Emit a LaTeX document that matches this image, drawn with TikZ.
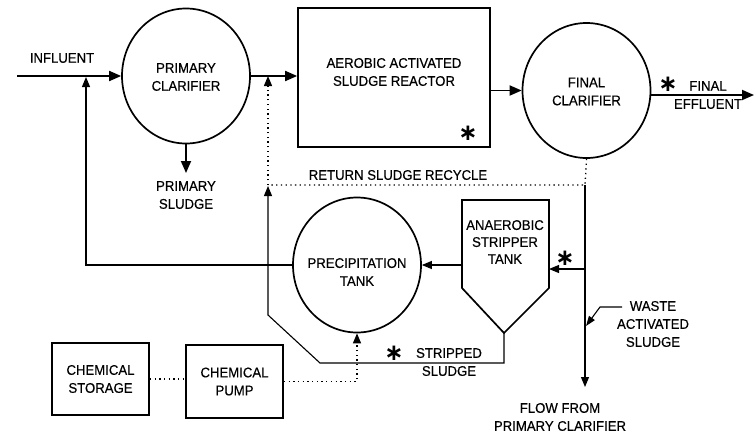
\documentclass[tikz,border=0pt]{standalone}
\usepackage{fontspec}
\setmainfont{Liberation Sans}[FakeStretch=0.94,FakeBold=0.4]
\newfontfamily\symfont{DejaVu Sans}
\usetikzlibrary{arrows.meta,shapes.geometric}
\begin{document}
\begin{tikzpicture}[x=1pt,y=-1pt,
  lbl/.style={font=\fontsize{14}{18}\selectfont, align=center, inner sep=0pt},
  vessel/.style={draw, ellipse, line width=1.7pt, minimum width=128pt, minimum height=135pt, inner sep=0pt},
  unit/.style={draw, rectangle, line width=1.7pt, inner sep=0pt, lbl},
  main/.style={line width=1.8pt, -{Triangle[length=12pt,width=10pt]}},
  thin/.style={line width=1.1pt},
  thinarr/.style={line width=1.1pt, -{Triangle[length=10pt,width=8pt]}},
  dots/.style={line width=1.3pt, dash pattern=on 1.3pt off 3.4pt},
  dotarr/.style={dots, -{Triangle[length=10pt,width=8pt]}},
  astmark/.style={inner sep=0pt, font=\symfont\bfseries\fontsize{23}{23}\selectfont}
]
\useasboundingbox (0,0) rectangle (755,434);
\fill[white] (0,0) rectangle (755,434);

% vessels and units
\node[vessel] (pc) at (186,76) {};
\node[lbl] (pctxt) at (186,77) {PRIMARY\\CLARIFIER};
\node[unit, minimum width=192pt, minimum height=139pt] (aer) at (394,77.5) {};
\node[lbl] (aertxt) at (394,72) {AEROBIC ACTIVATED\\SLUDGE REACTOR};
\node[vessel] (fc) at (586.5,90.5) {};
\node[lbl] (fctxt) at (586.5,91.5) {FINAL\\CLARIFIER};
\node[vessel] (pt) at (357,265) {};
\node[lbl] (pttxt) at (357,272) {PRECIPITATION\\TANK};
\node[unit, minimum width=97pt, minimum height=72pt] (cs) at (100.5,379) {CHEMICAL\\STORAGE};
\node[unit, minimum width=97pt, minimum height=73pt] (cp) at (234.5,381.5) {CHEMICAL\\PUMP};

% anaerobic stripper tank
\coordinate (atTL) at (462,200);
\coordinate (atTR) at (549,200);
\coordinate (atBR) at (549,288);
\coordinate (tankTip) at (504,333);
\coordinate (atBL) at (462,288);
\draw[line width=1.7pt] (atTL) -- (atTR) -- (atBR) -- (tankTip) -- (atBL) -- cycle;
\node[lbl, font=\fontsize{14}{17}\selectfont] (attxt) at (505,242) {ANAEROBIC\\STRIPPER\\TANK};

% main flow
\coordinate (inStart) at (17,76);
\draw[main] (inStart) -- (pc.west);
\node[lbl] (infl) at (62,58) {INFLUENT};
\draw[main] (pc.east) -- (aer.west |- pc.east);
\coordinate (psTip) at (186,173);
\draw[main] (pc.south) -- (psTip);
\node[lbl] (ps) at (186,195) {PRIMARY\\SLUDGE};
\draw[main] (aer.east |- fc.center) -- (fc.west);
\coordinate (effTip) at (754,95);
\draw[main] (fc.east |- effTip) -- (effTip);
\node[lbl] (eff) at (708,95) {FINAL\\EFFLUENT};

% return sludge recycle
\coordinate (retR) at (585,185);
\coordinate (retL) at (268,185);
\draw[dots] (fc.south) -- (retR) -- (retL);
\draw[dotarr] (retL) -- (retL |- pc.east);
\node[lbl] (rsr) at (398,175) {RETURN SLUDGE RECYCLE};

% waste / flow from primary clarifier
\coordinate (flowTip) at (585,387);
\draw[thinarr] (retR) -- (flowTip);
\node[lbl] (ffpc) at (560,417) {FLOW FROM\\PRIMARY CLARIFIER};
\coordinate (brR) at (585,269);
\coordinate (tankR) at (549,269);
\draw[thinarr] (brR) -- (tankR);

\coordinate (w1) at (622,307);
\coordinate (w2) at (600,307);
\coordinate (wTip) at (586,326);
\draw[thin, -{Triangle[length=10pt,width=7pt]}] (w1) -- (w2) -- (wTip);
\node[lbl] (was) at (653,324) {WASTE\\ACTIVATED\\SLUDGE};

% stripper -> precipitation -> influent
\coordinate (tankL) at (462,265);
\draw[thinarr] (tankL) -- (pt.east);
\coordinate (recTip) at (86,77);
\draw[thinarr] (pt.west) -| (recTip);

% stripped sludge
\coordinate (ss1) at (504,363);
\coordinate (ss2) at (320,363);
\coordinate (ss3) at (268,315);
\coordinate (ssTip) at (268,186);
\draw[thinarr] (tankTip) -- (ss1) -- (ss2) -- (ss3) -- (ssTip);
\node[lbl] (ssl) at (449,362) {STRIPPED\\SLUDGE};

% chemicals
\draw[dots] (cs.east) -- (cp.west |- cs.east);
\draw[dotarr] (cp.east) -| (pt.south);

% asterisks
\node[astmark] (s1) at (668,84) {∗};
\node[astmark] (s2) at (468,133) {∗};
\node[astmark] (s3) at (394,353) {∗};
\node[astmark] (s4) at (565,258) {∗};
\end{tikzpicture}
\end{document}
